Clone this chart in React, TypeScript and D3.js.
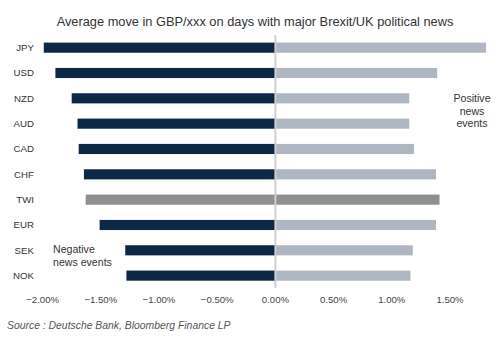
import React from "react";
import * as d3 from "d3";

const categories = ["JPY", "USD", "NZD", "AUD", "CAD", "CHF", "TWI", "EUR", "SEK", "NOK"];
const negativeValues = [-1.99, -1.89, -1.75, -1.70, -1.69, -1.645, -1.63, -1.51, -1.29, -1.28];
const positiveValues = [1.81, 1.39, 1.15, 1.15, 1.19, 1.38, 1.41, 1.38, 1.18, 1.16];
const tickValues = [-2, -1.5, -1, -0.5, 0, 0.5, 1, 1.5];
const titleText = "Average move in GBP/xxx on days with major Brexit/UK political news";
const sourceText = "Source : Deutsche Bank, Bloomberg Finance LP";
const highlight = "TWI";

const W = 500;
const H = 337;
const FONT = "'Liberation Sans', Arial, sans-serif";

export default function App() {
  const x = d3.scaleLinear().domain([-2, 1.5]).range([42.6, 450]);
  const y = d3.scaleBand<string>().domain(categories).range([35, 288.3]).paddingInner(0.6).paddingOuter(0.3);
  const fmt = (v: number) => d3.format(".2f")(v) + "%";
  const bh = y.bandwidth();

  return (
    <svg width={W} height={H} style={{ position: "absolute", left: 0, top: 0, background: "#fff" }}>
      <text x={255} y={25.5} textAnchor="middle" fontFamily={FONT} fontSize={12.8} fill="#333">
        {titleText}
      </text>
      {categories.map((c, i) => {
        const yy = y(c)!;
        const isH = c === highlight;
        return (
          <g key={c}>
            <rect x={x(negativeValues[i])} y={yy} width={x(0) - x(negativeValues[i])} height={bh} fill={isH ? "#8f8f8f" : "#0b2847"} />
            <rect x={x(0)} y={yy} width={x(positiveValues[i]) - x(0)} height={bh} fill={isH ? "#8f8f8f" : "#aeb6c1"} />
            <text x={34} y={yy + bh / 2} dy="0.35em" textAnchor="end" fontFamily={FONT} fontSize={9.7} fill="#333">
              {c}
            </text>
          </g>
        );
      })}
      <line x1={x(0)} x2={x(0)} y1={35} y2={288} stroke="#cfcfcf" strokeWidth={2} />
      {tickValues.map((t) => (
        <text key={t} x={x(t)} y={300} dy="0.35em" textAnchor="middle" fontFamily={FONT} fontSize={9.6} fill="#444">
          {fmt(t)}
        </text>
      ))}
      <text fontFamily={FONT} fontSize={10.6} fill="#333" textAnchor="middle">
        <tspan x={472} y={102}>Positive</tspan>
        <tspan x={472} y={114.5}>news</tspan>
        <tspan x={472} y={127}>events</tspan>
      </text>
      <text fontFamily={FONT} fontSize={10.6} fill="#333">
        <tspan x={53} y={253}>Negative</tspan>
        <tspan x={53} y={265.5}>news events</tspan>
      </text>
      <text x={7} y={328.8} fontFamily={FONT} fontSize={10.4} fontStyle="italic" fill="#555">
        {sourceText}
      </text>
    </svg>
  );
}
